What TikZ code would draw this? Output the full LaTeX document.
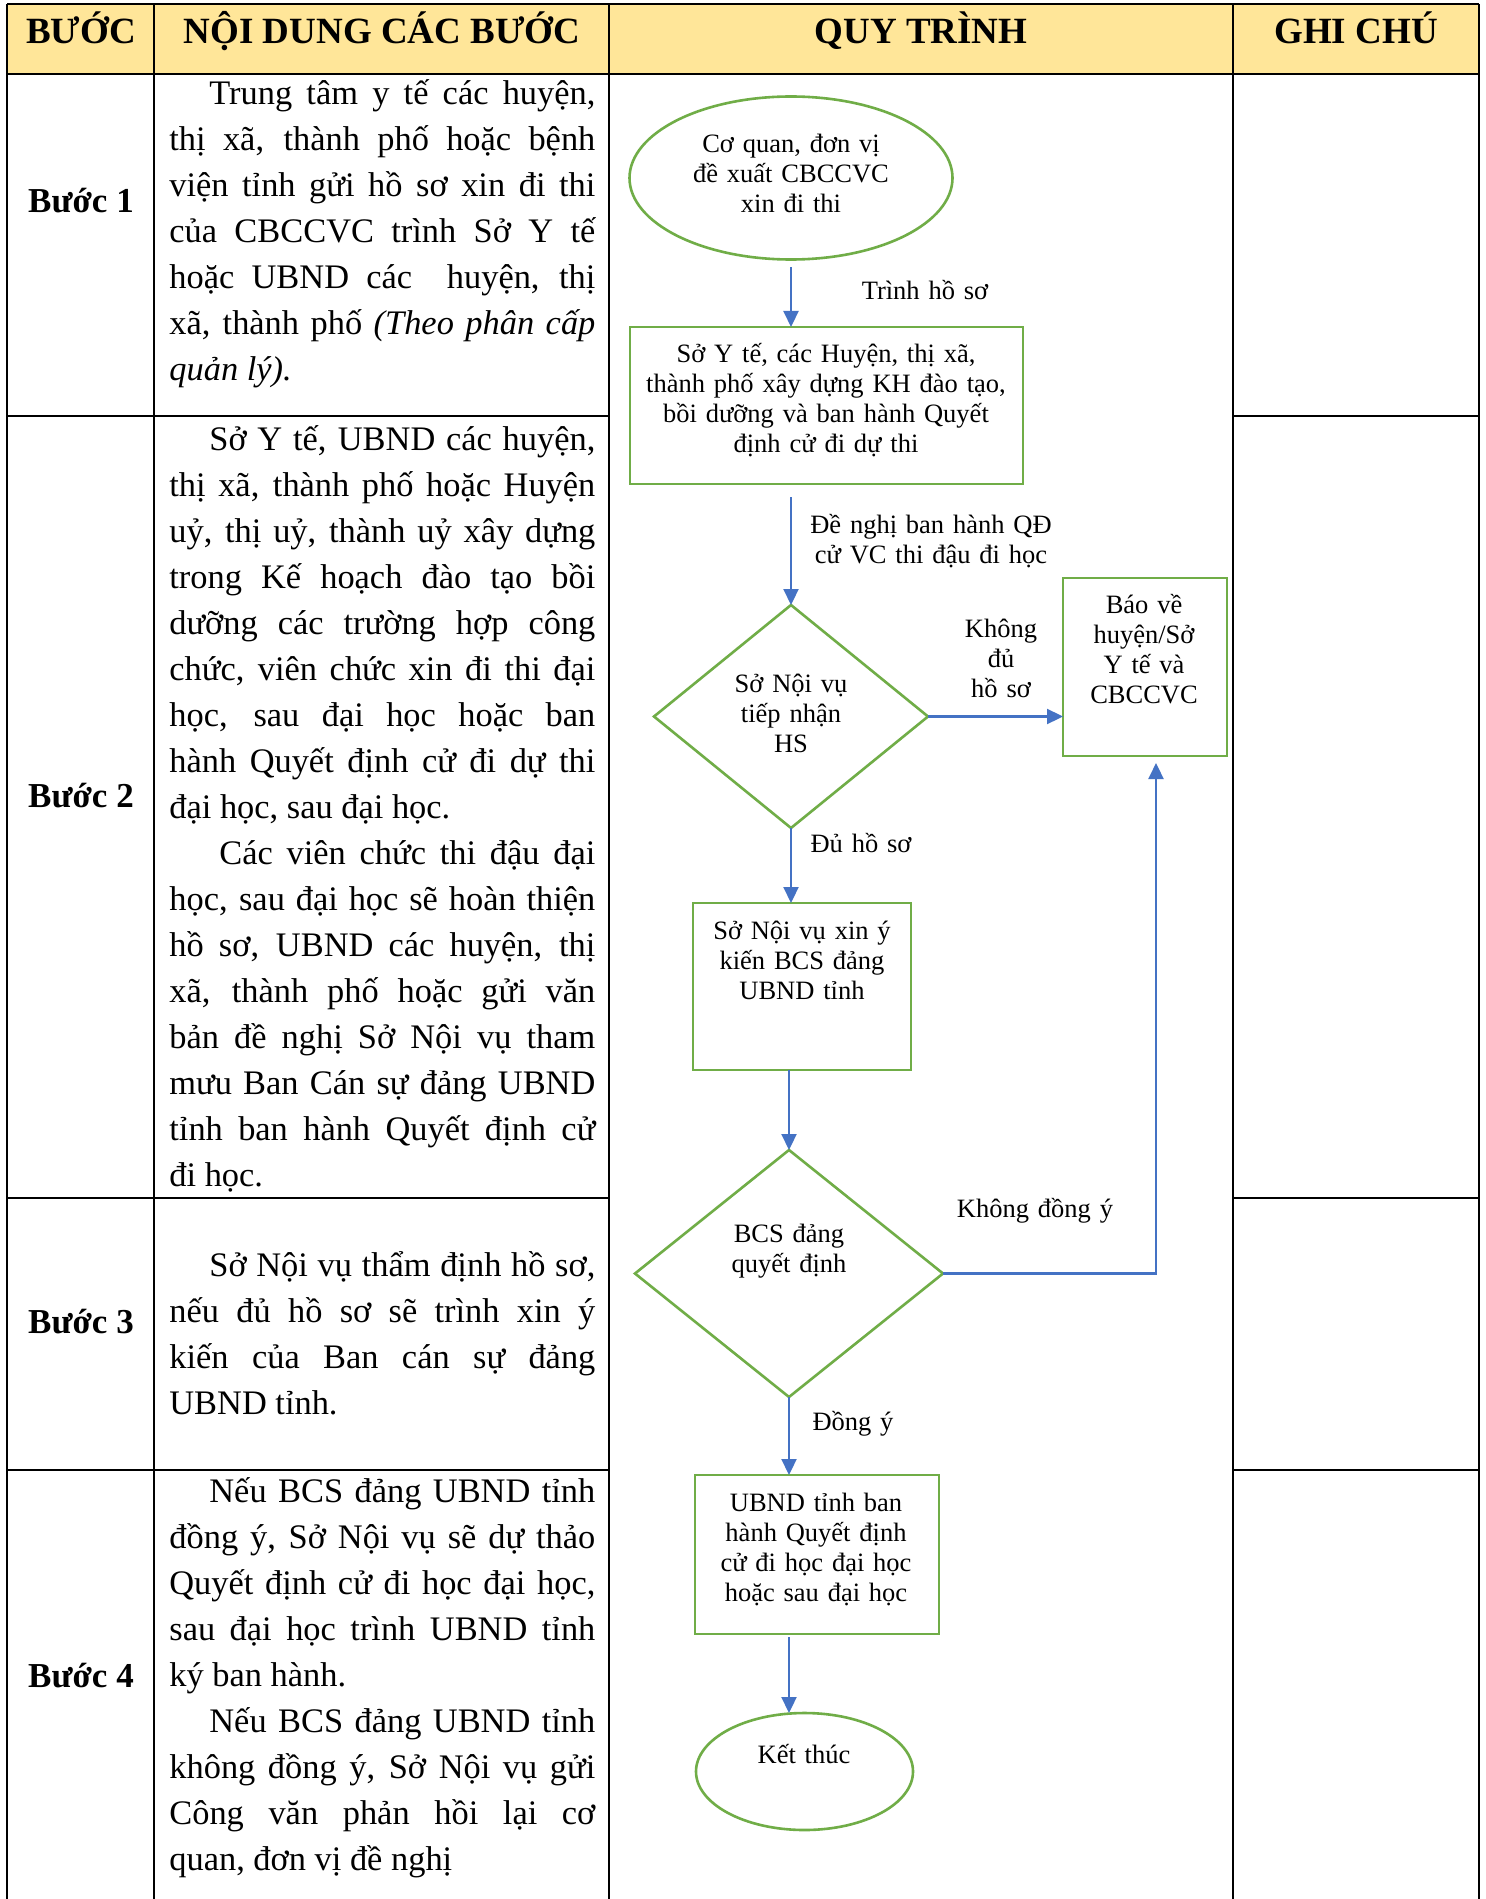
\documentclass[tikz,border=0pt]{standalone}
\usepackage{fontspec}
\setmainfont{Liberation Serif}
\usetikzlibrary{arrows.meta,shapes.geometric,calc}
\definecolor{hdr}{HTML}{FFE699}
\definecolor{grn}{HTML}{70AD47}
\definecolor{blu}{HTML}{4472C4}
\newcommand{\pind}[1]{\leavevmode\hbox to #1{}}
\begin{document}
\begin{tikzpicture}[x=0.5pt,y=-0.5pt,
 grid/.style={line width=1.4pt, draw=black},
 shp/.style={draw=grn, line width=1.3pt, inner sep=0pt, outer sep=0pt},
 procbox/.style={shp, rectangle},
 dec/.style={shp, diamond},
 term/.style={shp, ellipse},
 arr/.style={draw=blu, line width=1.1pt, -{Triangle[width=7.5pt,length=8pt]}},
 ftxt/.style={anchor=base, inner sep=0pt, text width=200pt, align=center, font=\fontsize{13.25pt}{15pt}\selectfont},
 hd/.style={anchor=base, inner sep=0pt, font=\fontsize{18.5pt}{22pt}\selectfont\bfseries},
 steplbl/.style={anchor=base, inner sep=0pt, font=\fontsize{17.5pt}{21pt}\selectfont\bfseries},
 body/.style={anchor=base west, inner sep=0pt, text width=213pt, align=justify, font=\fontsize{17.2pt}{23pt}\selectfont}
]
\useasboundingbox (0,0) rectangle (1486,1899);
\fill[white] (0,0) rectangle (1486,1899);
% header
\fill[hdr] (7,4) rectangle (1479,74);
\draw[grid] (7,4) -- (1479,4);
\draw[grid] (7,74) -- (1479,74);
\foreach \x in {7,154,609,1233,1479} \draw[grid] (\x,4) -- (\x,1899);
\foreach \y in {416,1198,1470} {
  \draw[grid] (7,\y) -- (609,\y);
  \draw[grid] (1233,\y) -- (1479,\y);
}
\node[hd] (h1) at (81,44) {BƯỚC};
\node[hd] (h2) at (382,44) {NỘI DUNG CÁC BƯỚC};
\node[hd] (h3) at (921,44) {QUY TRÌNH};
\node[hd] (h4) at (1356,44) {GHI CHÚ};
% step labels
\node[steplbl] (b1) at (81,213) {Bước 1};
\node[steplbl] (b2) at (81,807) {Bước 2};
\node[steplbl] (b3) at (81,1333) {Bước 3};
\node[steplbl] (b4) at (81,1687) {Bước 4};
% body texts
\node[body] (t1) at (169,105) {\tolerance=10000\relax\pind{20pt}Trung tâm y tế các huyện,\linebreak thị xã, thành phố hoặc bệnh\linebreak viện tỉnh gửi hồ sơ xin đi thi\linebreak của CBCCVC trình Sở Y tế\linebreak hoặc UBND các\ \ huyện, thị\linebreak xã, thành phố \textit{(Theo phân cấp\linebreak quản lý).}};
\node[body] (t2) at (169,450) {\tolerance=10000\relax\pind{20pt}Sở Y tế, UBND các huyện,\linebreak thị xã, thành phố hoặc Huyện\linebreak uỷ, thị uỷ, thành uỷ xây dựng\linebreak trong Kế hoạch đào tạo bồi\linebreak dưỡng các trường hợp công\linebreak chức, viên chức xin đi thi đại\linebreak học, sau đại học hoặc ban\linebreak hành Quyết định cử đi dự thi\linebreak đại học, sau đại học.\par
\pind{25pt}Các viên chức thi đậu đại\linebreak học, sau đại học sẽ hoàn thiện\linebreak hồ sơ, UBND các huyện, thị\linebreak xã, thành phố hoặc gửi văn\linebreak bản đề nghị Sở Nội vụ tham\linebreak mưu Ban Cán sự đảng UBND\linebreak tỉnh ban hành Quyết định cử\linebreak đi học.};
\node[body] (t3) at (169,1276) {\tolerance=10000\relax\pind{20pt}Sở Nội vụ thẩm định hồ sơ,\linebreak nếu đủ hồ sơ sẽ trình xin ý\linebreak kiến của Ban cán sự đảng\linebreak UBND tỉnh.};
\node[body] (t4) at (169,1502) {\tolerance=10000\relax\pind{20pt}Nếu BCS đảng UBND tỉnh\linebreak đồng ý, Sở Nội vụ sẽ dự thảo\linebreak Quyết định cử đi học đại học,\linebreak sau đại học trình UBND tỉnh\linebreak ký ban hành.\par
\pind{20pt}Nếu BCS đảng UBND tỉnh\linebreak không đồng ý, Sở Nội vụ gửi\linebreak Công văn phản hồi lại cơ\linebreak quan, đơn vị đề nghị};
% flowchart shapes
\node[term, minimum width=161.5pt, minimum height=81.5pt] (startE) at (791,178) {};
\node[procbox, minimum width=196.5pt, minimum height=78.5pt] (box1) at (826.5,405.5) {};
\node[dec, minimum width=137pt, minimum height=111.5pt] (dia1) at (791,716.5) {};
\node[procbox, minimum width=82pt, minimum height=89pt] (bao) at (1145,667) {};
\node[procbox, minimum width=109pt, minimum height=83.5pt] (box2) at (802,986.5) {};
\node[dec, minimum width=154pt, minimum height=123.5pt] (dia2) at (789,1273.5) {};
\node[procbox, minimum width=122pt, minimum height=79.5pt] (box3) at (817,1554.5) {};
\node[term, minimum width=108.5pt, minimum height=58.5pt] (endE) at (804.5,1771.5) {};
% shape texts
\node[ftxt] (startT) at (791,153) {Cơ quan, đơn vị\\đề xuất CBCCVC\\xin đi thi};
\node[ftxt] (box1T) at (826,363) {Sở Y tế, các Huyện, thị xã,\\thành phố xây dựng KH đào tạo,\\bồi dưỡng và ban hành Quyết\\định cử đi dự thi};
\node[ftxt] (dia1T) at (791,692) {Sở Nội vụ\\tiếp nhận\\HS};
\node[ftxt] (baoT) at (1144,613) {Báo về\\huyện/Sở\\Y tế và\\CBCCVC};
\node[ftxt] (box2T) at (802,939) {Sở Nội vụ xin ý\\kiến BCS đảng\\UBND tỉnh};
\node[ftxt] (dia2T) at (789,1242) {BCS đảng\\quyết định};
\node[ftxt] (box3T) at (816,1511) {UBND tỉnh ban\\hành Quyết định\\cử đi học đại học\\hoặc sau đại học};
\node[ftxt] (endT) at (804,1763) {Kết thúc};
% connectors
\draw[arr, shorten <=4pt] (startE.south) -- (startE.south |- box1.north);
\draw[arr, shorten <=6.5pt] (dia1.north |- box1.south) -- (dia1.north);
\draw[arr] (dia1.east) -- (dia1.east -| bao.west);
\draw[arr] (dia1.south) -- (dia1.south |- box2.north);
\draw[arr] (dia2.north |- box2.south) -- (dia2.north);
\draw[arr, shorten >=3.5pt] (dia2.east) -| ([xshift=5.5pt]bao.south);
\draw[arr] (dia2.south) -- (dia2.south |- box3.north);
\draw[arr, shorten <=1.5pt] (dia2.south |- box3.south) -- (dia2.south |- endE.north);
% connector labels
\node[ftxt] (l1) at (925,300) {Trình hồ sơ};
\node[ftxt] (l2) at (931,533) {Đề nghị ban hành QĐ\\cử VC thi đậu đi học};
\node[ftxt] (l3) at (1001,637) {Không\\đủ\\hồ sơ};
\node[ftxt] (l4) at (861,852) {Đủ hồ sơ};
\node[ftxt] (l5) at (1035,1217) {Không đồng ý};
\node[ftxt] (l6) at (853,1430) {Đồng ý};
\end{tikzpicture}
\end{document}
